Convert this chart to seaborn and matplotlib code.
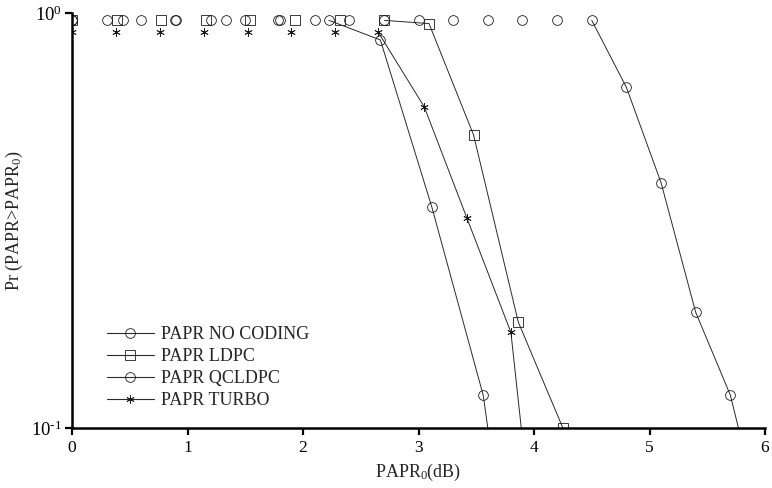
import numpy as np
import pandas as pd
import matplotlib
matplotlib.use("Agg")
import matplotlib.pyplot as plt
from matplotlib.lines import Line2D
import seaborn as sns

# ---- data ----
nocoding_x = [0.0, 0.3, 0.6, 0.9, 1.2, 1.5, 1.8, 2.1, 2.4, 2.7, 3.0, 3.3, 3.6, 3.9, 4.2, 4.5,
              4.8, 5.1, 5.4, 5.7, 6.0]
nocoding_y = [0.96] * 16 + [0.662, 0.390, 0.190, 0.120, 0.055]

ldpc_x = [0.0, 0.386, 0.773, 1.159, 1.545, 1.932, 2.318, 2.705, 3.091, 3.477, 3.864, 4.25]
ldpc_y = [0.96] * 8 + [0.943, 0.508, 0.180, 0.100]

qcldpc_x = [0.0, 0.445, 0.89, 1.335, 1.78, 2.225, 2.67, 3.115, 3.56, 4.005]
qcldpc_y = [0.96] * 6 + [0.861, 0.341, 0.120, 0.016]

turbo_x = [0.0, 0.38, 0.76, 1.14, 1.52, 1.90, 2.28, 2.65, 3.05, 3.42, 3.80, 4.18]
turbo_y = [0.90] * 8 + [0.594, 0.320, 0.170, 0.018]

labels = ["PAPR NO CODING", "PAPR LDPC", "PAPR QCLDPC", "PAPR TURBO"]
x_ticks = [0, 1, 2, 3, 4, 5, 6]
y_ticks = [0.1, 1.0]
y_tick_labels = [r"$10^{\text{-}1}$", r"$10^{0}$"]

series = [
    (labels[0], nocoding_x, nocoding_y, "o", 7.0),
    (labels[1], ldpc_x, ldpc_y, "s", 7.2),
    (labels[2], qcldpc_x, qcldpc_y, "o", 7.0),
    (labels[3], turbo_x, turbo_y, (6, 2, 0), 6.0),
]

# ---- style ----
sns.set_theme(style="ticks")
plt.rcParams["font.family"] = ["Liberation Serif", "DejaVu Serif"]
plt.rcParams["mathtext.fontset"] = "custom"
plt.rcParams["mathtext.rm"] = "Liberation Serif"
plt.rcParams["mathtext.it"] = "Liberation Serif:italic"
plt.rcParams["mathtext.bf"] = "Liberation Serif:bold"

fig = plt.figure(figsize=(7.72, 4.88), dpi=100)
ax = fig.add_axes([72 / 772, 60 / 488, 693 / 772, 415 / 488])

line_col = "#2a2a2a"
for name, xs, ys, mk, ms in series:
    df = pd.DataFrame({"x": xs, "y": ys})
    # line only along the descending part (from the last point at the top level)
    start = max(i for i, v in enumerate(ys) if v == ys[0])
    sns.lineplot(data=df.iloc[start:], x="x", y="y", ax=ax, color=line_col,
                 lw=0.7, sort=False, estimator=None, legend=False)
    sns.lineplot(data=df, x="x", y="y", ax=ax, linestyle="", marker=mk,
                 markersize=ms, markerfacecolor="none", markeredgecolor="#1a1a1a",
                 markeredgewidth=0.6, sort=False, estimator=None, legend=False,
                 color=line_col)

ax.set_yscale("log")
ax.set_xlim(0, 6)
ax.set_ylim(0.1, 1.0)
ax.set_xticks(x_ticks)
ax.set_xticklabels([str(t) for t in x_ticks])
ax.set_yticks(y_ticks)
ax.set_yticklabels(y_tick_labels)
ax.yaxis.set_minor_locator(matplotlib.ticker.NullLocator())

for s in ["top", "right"]:
    ax.spines[s].set_visible(False)
for s in ["left", "bottom"]:
    ax.spines[s].set_linewidth(1.8)
    ax.spines[s].set_color("black")
ax.tick_params(axis="both", direction="out", length=5, width=1.6, colors="black", pad=4)
ax.tick_params(axis="x", labelsize=12.5)
ax.tick_params(axis="y", labelsize=13.5, pad=2)

ax.set_xlabel(r"PAPR$_0$(dB)", fontsize=13, labelpad=4)
ax.set_ylabel(r"Pr (PAPR>PAPR$_0$)", fontsize=13)
ax.yaxis.set_label_coords(-0.068, 0.5)

handles = [Line2D([0], [0], color=line_col, lw=0.8, marker=mk, markersize=ms,
                  markerfacecolor="none", markeredgecolor="#1a1a1a", markeredgewidth=0.6)
           for _, _, _, mk, ms in series]
ax.legend(handles, labels, loc="upper left", bbox_to_anchor=(0.05, 0.245),
          frameon=False, fontsize=13, handlelength=2.6, handletextpad=0.4,
          labelspacing=0.28, borderpad=0, borderaxespad=0)

fig.savefig("out.png", dpi=100)
